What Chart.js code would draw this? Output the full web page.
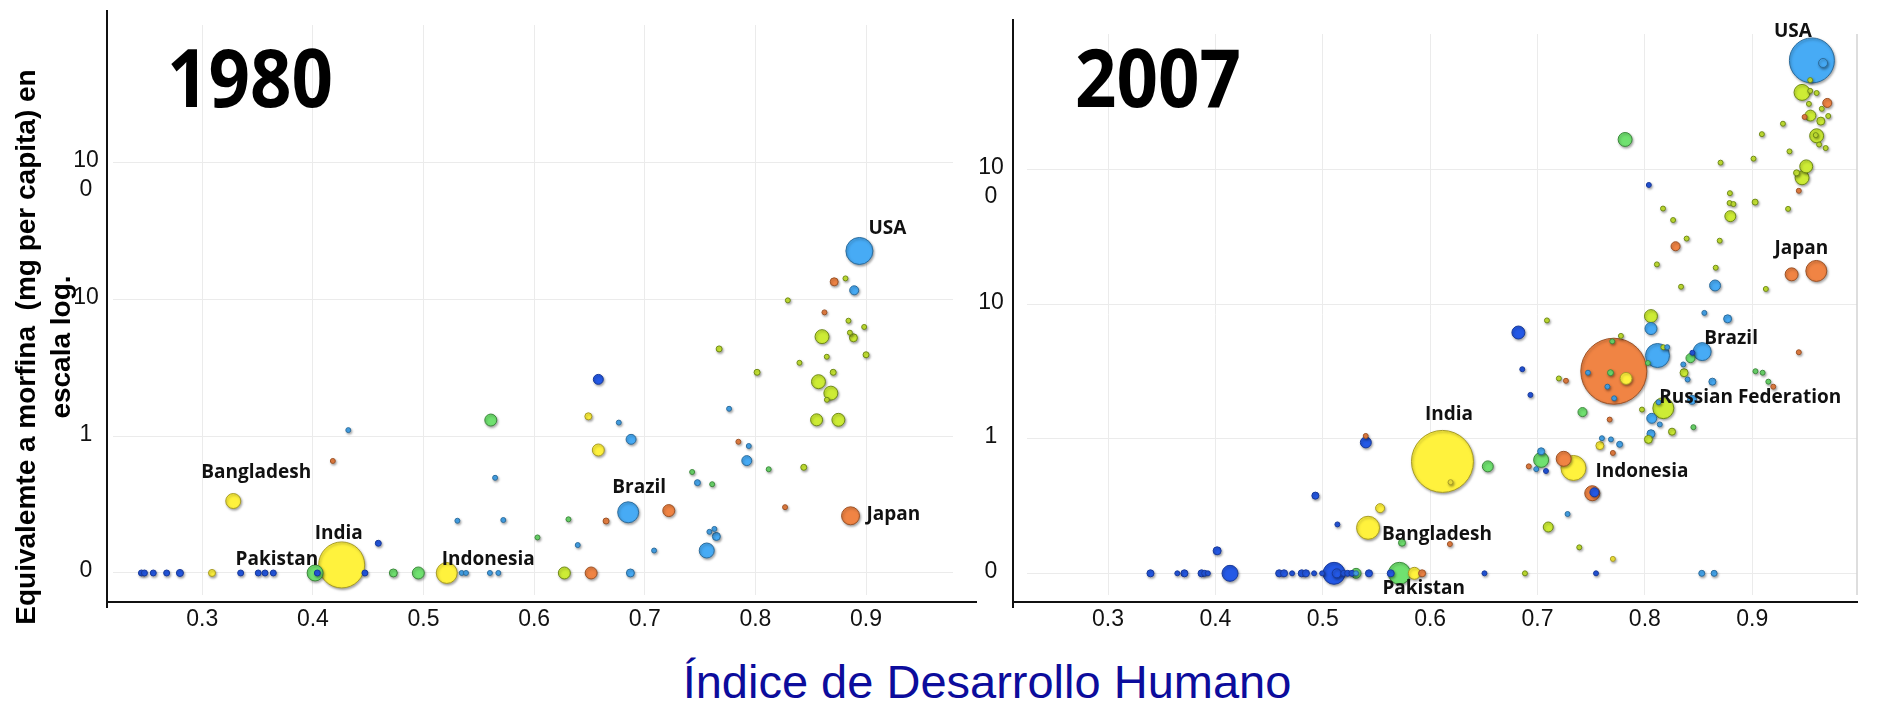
<!DOCTYPE html>
<html>
<head>
<meta charset="utf-8">
<script src="https://cdn.jsdelivr.net/npm/chart.js@4.4.1/dist/chart.umd.min.js"></script>
<style>
html,body{margin:0;padding:0;background:#fff;}
body{width:1891px;height:710px;overflow:hidden;position:relative;font-family:"Liberation Sans",Arial,sans-serif;}
canvas{position:absolute;top:0;}
#c1980{left:0;}
#c2007{left:900px;}
.year{position:absolute;top:36px;font-family:"Open Sans",sans-serif;font-weight:700;font-size:80px;line-height:80px;color:#000;transform-origin:left top;transform:scaleX(0.907);white-space:nowrap;}
.ytitle{position:absolute;left:-257px;top:312px;width:600px;height:70px;font-weight:700;font-size:28px;line-height:35px;text-align:center;color:#000;transform:rotate(-90deg);transform-origin:50% 50%;white-space:nowrap;}
.xtitle{position:absolute;left:487px;top:658px;width:1000px;text-align:center;font-size:47px;line-height:47px;color:#0c0c9c;white-space:nowrap;}
</style>
</head>
<body>
<canvas id="c1980" width="1000" height="650"></canvas>
<canvas id="c2007" width="991" height="650"></canvas>
<div class="year" style="left:167px;">1980</div>
<div class="year" style="left:1075px;">2007</div>
<div class="ytitle">Equivalemte a morfina&nbsp; (mg per capita) en<br>escala log.</div>
<div class="xtitle">Índice de Desarrollo Humano</div>
<script>
// ---------- DATA ----------
// Tick values / labels
const xTickValues = [0.3, 0.4, 0.5, 0.6, 0.7, 0.8, 0.9];
const yTickValues = [0.1, 1, 10, 100];
const yTickLabels = ['0', '1', '10', ['', '10', '0']];

// 1980 (first 7 entries are the labelled countries)
const countries1980 = ['USA', 'Japan', 'Brazil', 'Indonesia', 'India', 'Pakistan', 'Bangladesh'];
const hdi1980 = [0.894, 0.886, 0.685, 0.521, 0.426, 0.402, 0.328,
  0.245, 0.2477, 0.2557, 0.2678, 0.2798, 0.3088, 0.3347, 0.3506, 0.3567, 0.3642,
  0.404, 0.447, 0.4727, 0.4953, 0.5345, 0.5384, 0.56, 0.5676, 0.6273, 0.6515, 0.687,
  0.432, 0.418, 0.5647, 0.5306, 0.4591, 0.5608, 0.658, 0.649, 0.6765, 0.6876, 0.658,
  0.7217, 0.5721, 0.631, 0.665, 0.603, 0.6394, 0.7084, 0.756, 0.7584, 0.7629, 0.7647,
  0.7476, 0.7428, 0.7609, 0.7846, 0.794, 0.7922, 0.812, 0.8437, 0.8268, 0.7762,
  0.7672, 0.8015, 0.8398, 0.8645, 0.8703, 0.9, 0.857, 0.8682, 0.8646, 0.8553, 0.875,
  0.8712, 0.8814, 0.8893, 0.8293, 0.8624, 0.8841, 0.8983, 0.8602, 0.8854, 0.8886];
const morphine1980 = [22.7, 0.262, 0.278, 0.1, 0.1145, 0.1, 0.336,
  0.1, 0.1, 0.1, 0.1, 0.1, 0.1, 0.1, 0.1, 0.1, 0.1,
  0.1, 0.1, 0.1, 0.1, 0.1, 0.1, 0.1, 0.1, 0.1, 0.1, 0.1,
  1.11, 0.66, 0.497, 0.241, 0.165, 1.315, 2.61, 1.40, 1.26, 0.95, 0.794,
  0.286, 0.244, 0.247, 0.240, 0.182, 0.160, 0.146, 0.146, 0.200, 0.21, 0.185,
  0.458, 0.548, 0.446, 0.912, 0.849, 0.664, 0.574, 0.593, 0.303, 1.59,
  4.36, 2.94, 3.45, 3.82, 2.94, 3.95, 2.51, 2.07, 1.85, 1.32, 1.32,
  13.5, 14.3, 11.7, 9.88, 8.07, 7.01, 6.31, 5.36, 5.73, 5.26];
const population1980 = [242, 111, 149, 149, 682, 89, 79,
  15, 15, 15, 15, 20, 20, 15, 15, 15, 15,
  15, 15, 25, 52, 11, 11, 11, 11, 52, 52, 25,
  11, 11, 11, 11, 15, 52, 37, 20, 11, 37, 52,
  52, 11, 11, 15, 11, 11, 11, 79, 11, 11, 25,
  15, 11, 11, 11, 11, 37, 11, 15, 11, 11,
  15, 15, 11, 11, 15, 15, 69, 69, 11, 52, 60,
  25, 11, 31, 11, 11, 11, 11, 69, 11, 25];
const region1980 = ['L', 'O', 'L', 'Y', 'Y', 'G', 'Y',
  'D', 'D', 'D', 'D', 'D', 'Y', 'D', 'D', 'D', 'D',
  'D', 'D', 'G', 'G', 'L', 'L', 'L', 'L', 'E', 'O', 'L',
  'L', 'O', 'L', 'L', 'D', 'G', 'D', 'Y', 'L', 'L', 'Y',
  'O', 'L', 'G', 'O', 'G', 'L', 'L', 'L', 'L', 'L', 'L',
  'L', 'G', 'G', 'O', 'L', 'L', 'G', 'E', 'O', 'L',
  'E', 'E', 'E', 'E', 'E', 'E', 'E', 'E', 'E', 'E', 'E',
  'O', 'E', 'L', 'E', 'O', 'E', 'E', 'E', 'E', 'E'];

// 2007 (first 8 entries are the labelled countries)
const countries2007 = ['USA', 'Japan', 'Brazil', 'Russian Federation', 'Indonesia', 'India', 'Bangladesh', 'Pakistan'];
const hdi2007 = [0.9556, 0.9597, 0.8534, 0.8172, 0.7335, 0.6115, 0.5422, 0.5714,
  0.3395, 0.3645, 0.3711, 0.3871, 0.39, 0.393, 0.4136, 0.4594, 0.4639, 0.4714, 0.4804,
  0.4843, 0.4919, 0.4994, 0.5105, 0.513, 0.5196, 0.5232, 0.5272, 0.531, 0.531, 0.543,
  0.5633, 0.5853, 0.5925, 0.6506, 0.6883, 0.7545, 0.853, 0.8645,
  0.4016, 0.5401, 0.540, 0.4931, 0.5534, 0.5136, 0.5738, 0.619, 0.6184, 0.6537,
  0.6858, 0.6934, 0.7199, 0.7265, 0.7419, 0.7672, 0.7034, 0.7034, 0.6919, 0.6988,
  0.7079, 0.7244, 0.751, 0.753, 0.728, 0.71, 0.7389, 0.7702,
  0.7711, 0.7825, 0.747, 0.768, 0.7651, 0.7714, 0.7696, 0.7777, 0.7088, 0.8057,
  0.8057, 0.8118, 0.8172, 0.8208, 0.8028, 0.8425, 0.8443, 0.8358, 0.8365, 0.8398,
  0.8554, 0.8771, 0.8629, 0.903, 0.9097, 0.915, 0.9196,
  0.8127, 0.844, 0.8064, 0.7973, 0.8139, 0.8452, 0.8253, 0.8057, 0.8033, 0.76,
  0.7684, 0.7765, 0.7581, 0.7702,
  0.966, 0.954, 0.9464, 0.954, 0.960, 0.9699, 0.9528, 0.9648, 0.9488, 0.9542,
  0.9708, 0.9639, 0.9286, 0.909, 0.96, 0.9592, 0.9623, 0.9684, 0.9347, 0.7816,
  0.8705, 0.9012, 0.9503, 0.9413, 0.9464, 0.9434, 0.8037, 0.8792, 0.8789, 0.8825,
  0.9027, 0.9334, 0.8169, 0.8263, 0.8796, 0.8389, 0.8697, 0.8286, 0.8112, 0.866,
  0.8654, 0.8337, 0.9127, 0.9367, 0.9434, 0.6822];
const morphine2007 = [650, 17.7, 4.45, 1.69, 0.607, 0.679, 0.218, 0.1,
  0.1, 0.1, 0.1, 0.1, 0.1, 0.1, 0.1, 0.1, 0.1, 0.1, 0.1,
  0.1, 0.1, 0.1, 0.1, 0.1, 0.1, 0.1, 0.1, 0.1, 0.1, 0.1,
  0.1, 0.1, 0.1, 0.1, 0.1, 0.1, 0.1, 0.1,
  0.147, 0.94, 1.05, 0.378, 0.305, 0.231, 0.169, 0.476, 0.165, 0.624,
  3.29, 2.12, 2.81, 2.70, 1.58, 1.39, 0.697, 0.807, 0.624, 0.595,
  0.576, 0.710, 0.394, 0.40, 0.276, 0.221, 0.156, 0.128,
  3.18, 2.81, 3.10, 3.10, 2.44, 2.0, 5.30, 5.82, 7.59, 8.17,
  6.6, 4.16, 4.79, 4.8, 3.66, 3.98, 4.36, 3.57, 3.10, 2.76,
  8.63, 7.80, 2.66, 3.18, 3.10, 2.66, 2.44,
  1.87, 1.95, 1.42, 1.65, 1.28, 1.22, 1.13, 1.09, 0.99, 1.01,
  0.99, 0.91, 0.89, 0.785,
  622, 464, 376, 386, 372, 314, 309, 284, 247, 253,
  251, 230, 220, 184, 179, 181, 154, 145, 137, 168,
  113, 121, 106, 94.9, 87.2, 69.8, 77.1, 67, 56.6, 55.6,
  57.5, 51.2, 51.5, 42.3, 45.2, 30.8, 29.7, 27.0, 19.8, 18.7,
  13.8, 13.5, 13.0, 16.7, 4.40, 6.17];
const population2007 = [653, 149, 111, 149, 209, 1225, 178, 163,
  20, 11, 20, 20, 15, 11, 89, 20, 20, 11, 20,
  20, 11, 11, 163, 31, 15, 15, 15, 37, 11, 20,
  20, 52, 20, 11, 11, 11, 15, 15,
  25, 44, 11, 20, 31, 11, 20, 11, 11, 44,
  11, 11, 11, 11, 31, 11, 79, 20, 11, 11,
  11, 79, 79, 31, 11, 37, 11, 11,
  1385, 52, 11, 15, 11, 11, 11, 11, 11, 60,
  52, 193, 11, 11, 11, 31, 11, 11, 25, 11,
  11, 25, 20, 11, 11, 11, 11,
  11, 31, 37, 11, 11, 11, 20, 25, 25, 11,
  11, 15, 25, 11,
  31, 11, 89, 11, 11, 31, 11, 11, 11, 44,
  11, 25, 11, 11, 69, 11, 11, 11, 11, 69,
  11, 11, 60, 15, 69, 11, 11, 11, 11, 11,
  15, 11, 11, 11, 44, 11, 11, 31, 11, 11,
  44, 11, 11, 60, 11, 60];
const region2007 = ['L', 'O', 'L', 'E', 'Y', 'Y', 'Y', 'G',
  'D', 'D', 'D', 'D', 'D', 'D', 'D', 'D', 'D', 'D', 'D',
  'D', 'D', 'D', 'D', 'D', 'D', 'D', 'D', 'G', 'L', 'D',
  'D', 'Y', 'O', 'D', 'E', 'D', 'L', 'L',
  'D', 'D', 'O', 'D', 'Y', 'D', 'G', 'Y', 'O', 'G',
  'D', 'D', 'E', 'O', 'G', 'O', 'G', 'L', 'O', 'L',
  'D', 'O', 'O', 'D', 'L', 'E', 'E', 'Y',
  'O', 'Y', 'L', 'G', 'L', 'L', 'G', 'E', 'E', 'E',
  'L', 'L', 'E', 'L', 'G', 'G', 'D', 'L', 'E', 'L',
  'L', 'L', 'L', 'G', 'G', 'G', 'O',
  'L', 'L', 'L', 'E', 'L', 'G', 'E', 'L', 'E', 'L',
  'L', 'L', 'Y', 'O',
  'L', 'E', 'E', 'E', 'E', 'O', 'E', 'E', 'O', 'E',
  'E', 'E', 'E', 'E', 'E', 'E', 'E', 'E', 'E', 'G',
  'E', 'E', 'E', 'E', 'E', 'O', 'D', 'E', 'E', 'E',
  'E', 'E', 'E', 'E', 'E', 'E', 'E', 'O', 'E', 'E',
  'L', 'E', 'E', 'O', 'O', 'D'];

// ---------- STYLES ----------
const regionFill = {D: '#2459e6', L: '#47abf5', G: '#70e170', E: '#cdec35', Y: '#fff23d', O: '#f08444'};
const regionStroke = {D: '#18399a', L: '#2c6c9c', G: '#3d8a3d', E: '#6f8a16', Y: '#a89c26', O: '#9c5226'};
const labelStyle = {
  1980: {
    'USA': {dx: 9, dy: -17, align: 'left'},
    'Japan': {dx: 16, dy: 4, align: 'left'},
    'Brazil': {dx: 11, dy: -19, align: 'center'},
    'Indonesia': {dx: -5, dy: -8, align: 'left'},
    'India': {dx: -3, dy: -26, align: 'center'},
    'Pakistan': {dx: 3, dy: -8, align: 'right'},
    'Bangladesh': {dx: 23, dy: -23, align: 'center'}
  },
  2007: {
    'USA': {dx: -38, dy: -23, align: 'left'},
    'Japan': {dx: -15, dy: -17, align: 'center'},
    'Brazil': {dx: 2, dy: -8, align: 'left'},
    'Russian Federation': {dx: -4, dy: -5, align: 'left'},
    'Indonesia': {dx: 22, dy: 9, align: 'left'},
    'India': {dx: 6.5, dy: -41, align: 'center'},
    'Bangladesh': {dx: 14, dy: 12, align: 'left'},
    'Pakistan': {dx: -17, dy: 21, align: 'left'}
  }
};

function radiusFor(pop) { return 0.9 * Math.sqrt(pop) - 0.5; }

function makeChart(id, year, hdi, morph, pop, reg, names, o) {
  const pts = hdi.map((x, i) => ({x: x, y: morph[i], r: radiusFor(pop[i]), reg: reg[i]}));
  const order = pts.slice().sort((a, b) => b.r - a.r);

  const overlay = {
    id: 'overlay' + year,
    beforeDatasetsDraw(chart) {
      const c = chart.ctx;
      c.save();
      c.shadowColor = 'rgba(0,0,0,0.35)';
      c.shadowBlur = 2.5;
      c.shadowOffsetX = 1;
      c.shadowOffsetY = 1.5;
    },
    afterDatasetsDraw(chart) {
      const c = chart.ctx;
      c.restore();
      const xs = chart.scales.x, ys = chart.scales.y;
      c.save();
      c.font = 'bold 19px "Open Sans"';
      c.fillStyle = '#111';
      c.textBaseline = 'alphabetic';
      names.forEach((n, i) => {
        const st = labelStyle[year][n];
        const px = xs.getPixelForValue(hdi[i]);
        const py = ys.getPixelForValue(morph[i]);
        c.textAlign = st.align;
        c.fillText(n, px + st.dx, py + st.dy);
      });
      c.restore();
    },
    afterDraw(chart) {
      const c = chart.ctx, a = chart.chartArea;
      c.save();
      if (o.rightBorder) {
        c.strokeStyle = '#d3d3d3';
        c.lineWidth = 1.5;
        c.beginPath();
        c.moveTo(a.right, a.top);
        c.lineTo(a.right, a.bottom);
        c.stroke();
      }
      c.strokeStyle = '#111';
      c.lineWidth = 2;
      c.beginPath();
      c.moveTo(a.left - o.axisGap, a.top - 15);
      c.lineTo(a.left - o.axisGap, a.bottom + 13);
      c.moveTo(a.left - o.axisGap, a.bottom + 7);
      c.lineTo(a.right + o.axisExtend, a.bottom + 7);
      c.stroke();
      c.restore();
    }
  };

  return new Chart(document.getElementById(id), {
    type: 'bubble',
    data: {
      datasets: [{
        data: order.map(p => ({x: p.x, y: p.y, r: p.r})),
        backgroundColor: order.map(p => regionFill[p.reg]),
        borderColor: order.map(p => regionStroke[p.reg]),
        borderWidth: 1,
        hoverRadius: 0,
        clip: false
      }]
    },
    options: {
      responsive: false,
      animation: false,
      events: [],
      layout: {padding: {left: 0, top: 25, right: o.padRight, bottom: 0}},
      plugins: {legend: {display: false}, tooltip: {enabled: false}},
      scales: {
        x: {
          type: 'linear', min: o.xMin, max: o.xMax,
          afterBuildTicks: s => { s.ticks = xTickValues.map(v => ({value: v})); },
          afterFit: s => { s.height = 55; s.paddingLeft = 0; s.paddingRight = 0; },
          grid: {color: '#ebebeb', lineWidth: 1, drawTicks: false},
          border: {display: false},
          ticks: {
            font: {family: 'Liberation Sans', size: 23}, color: '#111', padding: 11,
            maxRotation: 0, autoSkip: false,
            callback: v => Number(v).toFixed(1)
          }
        },
        y: {
          type: 'logarithmic', min: 0.069, max: 1022,
          afterBuildTicks: s => { s.ticks = yTickValues.map(v => ({value: v})); },
          afterFit: s => { s.width = o.yWidth; s.paddingTop = 0; s.paddingBottom = 0; },
          grid: {color: '#ebebeb', lineWidth: 1, drawTicks: false},
          border: {display: false},
          ticks: {
            font: {family: 'Liberation Sans', size: 23, lineHeight: 1.25}, color: '#111',
            crossAlign: 'center', padding: o.yPad, labelOffset: -2, autoSkip: false,
            callback: (v, i) => yTickLabels[i]
          }
        }
      }
    },
    plugins: [overlay]
  });
}

function draw() {
  makeChart('c1980', 1980, hdi1980, morphine1980, population1980, region1980, countries1980,
    {xMin: 0.2193, xMax: 0.9786, padRight: 47, yWidth: 113, yPad: 14.2, axisGap: 6, axisExtend: 24, rightBorder: false});
  makeChart('c2007', 2007, hdi2007, morphine2007, population2007, region2007, countries2007,
    {xMin: 0.2245, xMax: 0.9976, padRight: 9, yWidth: 127, yPad: 23.2, axisGap: 14, axisExtend: 1, rightBorder: true});
}

let done = false;
function go() { if (!done) { done = true; draw(); } }
if (document.fonts && document.fonts.load) {
  Promise.all([
    document.fonts.load('bold 19px "Open Sans"'),
    document.fonts.load('23px "Liberation Sans"')
  ]).then(go, go);
  setTimeout(go, 600);
} else { go(); }
</script>
</body>
</html>
